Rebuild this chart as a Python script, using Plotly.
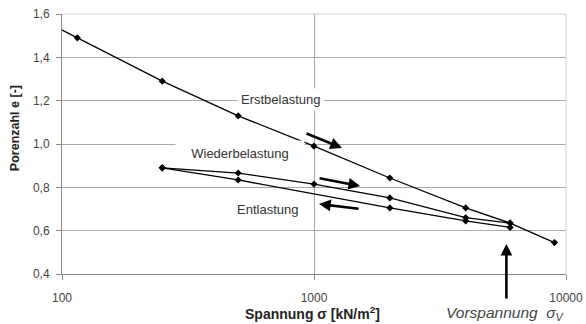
import math
import plotly.graph_objects as go

# Oedometer test: void ratio e against vertical stress sigma (kN/m²)
# First loading (virgin compression line); the first point lies just left of
# the axis so the line runs in from the edge
sigma_erst = [90, 115, 250, 500, 1000, 2000, 4000, 6000, 9000]
e_erst = [1.553, 1.49, 1.29, 1.13, 0.99, 0.843, 0.705, 0.635, 0.545]

# Reloading branch
sigma_wieder = [250, 500, 1000, 2000, 4000, 6000]
e_wieder = [0.89, 0.866, 0.815, 0.751, 0.66, 0.635]

# Unloading branch
sigma_ent = [6000, 4000, 2000, 500, 250]
e_ent = [0.615, 0.645, 0.705, 0.834, 0.89]

# Pre-consolidation stress
sigma_v = 5800

x_ticks = [100, 1000, 10000]
x_ticktext = ["100", "1000", "10000"]

LINE = dict(color="black", width=1.3)
MARK = dict(symbol="diamond", color="black", size=5.5)

fig = go.Figure()
for xs, ys in [(sigma_erst, e_erst), (sigma_wieder, e_wieder), (sigma_ent, e_ent)]:
    fig.add_trace(go.Scatter(x=xs, y=ys, mode="lines+markers",
                             line=LINE, marker=MARK, cliponaxis=True))

L = math.log10
TXT = dict(family="Liberation Sans, Arial, sans-serif", size=13, color="#333")

# Curve labels, boxed in white so the grid stops around them
fig.add_annotation(x=L(740), y=1.205, xref="x", yref="y", text="Erstbelastung",
                   showarrow=False, font=TXT, bgcolor="white", borderpad=3,
                   xanchor="center", yanchor="middle")
fig.add_annotation(x=L(508), y=0.959, xref="x", yref="y", text="Wiederbelastung",
                   showarrow=False, font=TXT, bgcolor="white", width=126, height=22,
                   xanchor="center", yanchor="middle")
fig.add_annotation(x=L(656), y=0.696, xref="x", yref="y", text="Entlastung",
                   showarrow=False, font=TXT, bgcolor="white",
                   xanchor="center", yanchor="middle")

# Direction arrows
def direction_arrow(x0, y0, x1, y1):
    fig.add_annotation(x=L(x1), y=y1, ax=L(x0), ay=y0, xref="x", yref="y",
                       axref="x", ayref="y", text="", showarrow=True,
                       arrowhead=2, arrowsize=0.9, arrowwidth=2.6, arrowcolor="black")

direction_arrow(921, 1.051, 1291, 0.982)
direction_arrow(1038, 0.843, 1524, 0.806)
direction_arrow(1524, 0.700, 1047, 0.723)
direction_arrow(sigma_v, 0.28, sigma_v, 0.539)

# Axis titles
fig.add_annotation(x=0.498, y=-0.15, xref="paper", yref="paper",
                   text="<b>Spannung σ [kN/m<sup>2</sup>]</b>", showarrow=False,
                   font=dict(TXT, size=14, color="#222"),
                   xanchor="center", yanchor="middle")
fig.add_annotation(x=-0.093, y=0.5615, xref="paper", yref="paper",
                   text="<b>Porenzahl e [-]</b>", showarrow=False, textangle=-90,
                   font=dict(TXT, size=12.5, color="#222"),
                   xanchor="center", yanchor="middle")
fig.add_annotation(x=0.879, y=-0.15, xref="paper", yref="paper",
                   text="<i>Vorspannung  σ<sub>V</sub></i>", showarrow=False,
                   font=dict(TXT, size=15.5, color="#444"),
                   xanchor="center", yanchor="middle")

# Light frame on top and right
fig.add_shape(type="line", xref="paper", yref="paper", x0=0, x1=1, y0=1, y1=1,
              line=dict(color="#d2d2d2", width=1))
fig.add_shape(type="line", xref="paper", yref="paper", x0=1, x1=1, y0=0, y1=1,
              line=dict(color="#d2d2d2", width=1))

fig.update_layout(
    width=586, height=324,
    margin=dict(l=62, r=20, t=14, b=50),
    plot_bgcolor="white", paper_bgcolor="white",
    showlegend=False, separators=",.",
    font=dict(family="Liberation Sans, Arial, sans-serif", size=12, color="#444"),
)
fig.update_xaxes(type="log", range=[2, 4], tickvals=x_ticks, ticktext=x_ticktext,
                 ticks="outside", ticklen=5, tickcolor="#888",
                 showline=True, linecolor="#888", linewidth=1,
                 showgrid=True, gridcolor="#a8a8a8", zeroline=False,
                 ticklabelstandoff=8, automargin=False)
fig.update_yaxes(range=[0.4, 1.6], tick0=0.4, dtick=0.2, tickformat=".1f",
                 ticks="outside", ticklen=5, tickcolor="#888",
                 showline=True, linecolor="#888", linewidth=1,
                 showgrid=True, gridcolor="#a8a8a8", zeroline=False,
                 ticklabelstandoff=4, automargin=False)

fig.write_html("out.html")
